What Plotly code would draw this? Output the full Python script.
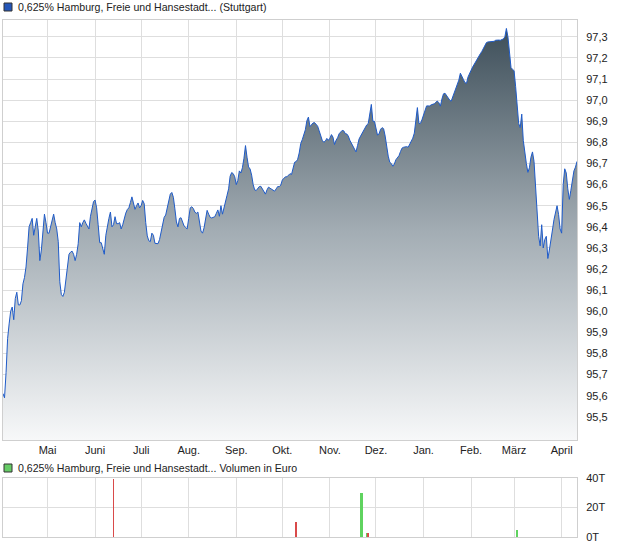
import plotly.graph_objects as go
import pandas as pd

# ---- data ----
start_date = "2024-04-02"
price = [
    95.61, 95.59, 95.71, 95.87, 95.94, 96.00, 96.02, 95.96, 96.06, 96.09,
    96.03, 96.03, 96.05, 96.13, 96.16, 96.21, 96.30, 96.40, 96.42, 96.44,
    96.36, 96.41, 96.44, 96.38, 96.24, 96.29, 96.39, 96.46, 96.42, 96.37,
    96.37, 96.40, 96.44, 96.46, 96.42, 96.39, 96.33, 96.14, 96.08, 96.07,
    96.09, 96.15, 96.21, 96.27, 96.28, 96.285, 96.27, 96.24, 96.27, 96.32,
    96.42, 96.40, 96.42, 96.433, 96.417, 96.40, 96.39, 96.45, 96.48, 96.52,
    96.527, 96.49, 96.41, 96.325, 96.325, 96.30, 96.27, 96.36, 96.41, 96.44,
    96.47, 96.40, 96.41, 96.448, 96.415, 96.415, 96.42, 96.39, 96.41, 96.44,
    96.465, 96.482, 96.49, 96.515, 96.542, 96.513, 96.483, 96.50, 96.513, 96.49,
    96.50, 96.525, 96.51, 96.42, 96.357, 96.334, 96.33, 96.37, 96.36, 96.322,
    96.322, 96.32, 96.34, 96.38, 96.413, 96.445, 96.456, 96.49, 96.53, 96.555,
    96.563, 96.54, 96.485, 96.423, 96.40, 96.44, 96.443, 96.42, 96.404, 96.397,
    96.39, 96.44, 96.49, 96.495, 96.487, 96.47, 96.464, 96.47, 96.42, 96.38,
    96.37, 96.395, 96.437, 96.478, 96.46, 96.445, 96.442, 96.445, 96.448, 96.464,
    96.48, 96.45, 96.50, 96.46, 96.495, 96.52, 96.55, 96.58, 96.64, 96.657,
    96.652, 96.637, 96.60, 96.62, 96.665, 96.655, 96.68, 96.725, 96.785, 96.73,
    96.684, 96.674, 96.645, 96.60, 96.575, 96.572, 96.583, 96.591, 96.592, 96.58,
    96.573, 96.555, 96.575, 96.588, 96.583, 96.578, 96.575, 96.569, 96.58, 96.591,
    96.59, 96.598, 96.622, 96.631, 96.637, 96.637, 96.647, 96.652, 96.648, 96.68,
    96.706, 96.709, 96.72, 96.75, 96.795, 96.813, 96.834, 96.86, 96.903, 96.92,
    96.875, 96.884, 96.892, 96.894, 96.887, 96.877, 96.855, 96.826, 96.81, 96.801,
    96.806, 96.819, 96.81, 96.82, 96.837, 96.825, 96.79, 96.81, 96.822, 96.841,
    96.851, 96.857, 96.855, 96.842, 96.84, 96.83, 96.81, 96.795, 96.781, 96.768,
    96.755, 96.785, 96.816, 96.83, 96.845, 96.86, 96.874, 96.883, 96.89, 96.945,
    96.98, 96.90, 96.90, 96.868, 96.835, 96.84, 96.862, 96.87, 96.865, 96.83,
    96.775, 96.735, 96.706, 96.70, 96.687, 96.698, 96.718, 96.728, 96.737, 96.757,
    96.773, 96.777, 96.78, 96.78, 96.777, 96.79, 96.806, 96.82, 96.844, 96.90,
    96.965, 96.89, 96.89, 96.908, 96.933, 96.96, 96.973, 96.973, 96.973, 96.978,
    96.981, 96.983, 96.99, 96.996, 96.988, 96.972, 97.006, 97.03, 97.033, 97.02,
    97.007, 97.001, 96.995, 97.016, 97.04, 97.06, 97.075, 97.095, 97.128, 97.116,
    97.098, 97.083, 97.08, 97.11, 97.13, 97.142, 97.157, 97.171, 97.184, 97.196,
    97.207, 97.22, 97.231, 97.246, 97.26, 97.273, 97.276, 97.276, 97.276, 97.276,
    97.279, 97.284, 97.286, 97.285, 97.284, 97.287, 97.29, 97.30, 97.34, 97.30,
    97.23, 97.155, 97.146, 97.14, 97.065, 96.99, 96.89, 96.87, 96.934, 96.81,
    96.737, 96.70, 96.658, 96.68, 96.73, 96.755, 96.71, 96.595, 96.44, 96.355,
    96.31, 96.41, 96.30, 96.34, 96.355, 96.25, 96.29, 96.33, 96.385, 96.434,
    96.467, 96.50, 96.458, 96.39, 96.37, 96.60, 96.675, 96.655, 96.58, 96.53,
    96.573, 96.625, 96.665, 96.683, 96.71,
]

vol_dates = ["2024-06-13", "2024-10-10", "2024-11-21", "2024-11-22",
             "2024-11-25", "2024-11-26", "2025-03-03"]
vol_values = [39500, 10500, 29500, 29500, 2800, 2800, 4600]
vol_direction = ["down", "down", "up", "up", "up", "down", "up"]

month_ticks = ["2024-05-01", "2024-06-01", "2024-07-01", "2024-08-01",
               "2024-09-01", "2024-10-01", "2024-11-01", "2024-12-01",
               "2025-01-01", "2025-02-01", "2025-03-01", "2025-04-01"]
month_labels = ["Mai", "Juni", "Juli", "Aug.", "Sep.", "Okt.", "Nov.",
                "Dez.", "Jan.", "Feb.", "März", "April"]
price_ticks = [95.5, 95.6, 95.7, 95.8, 95.9, 96.0, 96.1, 96.2, 96.3, 96.4,
               96.5, 96.6, 96.7, 96.8, 96.9, 97.0, 97.1, 97.2, 97.3]
vol_ticks = [0, 20000, 40000]
vol_tick_labels = ["0T", "20T", "40T"]

title_price = "0,625% Hamburg, Freie und Hansestadt... (Stuttgart)"
title_volume = "0,625% Hamburg, Freie und Hansestadt... Volumen in Euro"

# ---- figure ----
W, H = 620, 546
ML, MR, MT, MB = 3, 43, 20, 9
plot_w = W - ML - MR
plot_h = H - MT - MB


def px(xp):
    return (xp - ML) / plot_w


def py(yp):
    return (H - MB - yp) / plot_h


dates = pd.date_range(start_date, periods=len(price), freq="D")
up_col, down_col = "#5fd35f", "#d94a4a"
vol_colors = [up_col if d == "up" else down_col for d in vol_direction]

grid = "#dedede"
frame = "#cfcfcf"

fig = go.Figure()
fig.add_trace(go.Scatter(
    x=dates, y=price, mode="lines",
    line=dict(color="#1f5bc8", width=1),
    fill="tozeroy",
    fillgradient=dict(type="vertical",
                      colorscale=[[0, "#f7f8f9"], [0.5, "#a3adb4"], [1, "#3c4d58"]],
                      start=95.39, stop=97.36),
    xaxis="x", yaxis="y", hoverinfo="skip",
))
fig.add_trace(go.Bar(
    x=pd.to_datetime(vol_dates), y=vol_values, marker_color=vol_colors,
    marker_line_width=0, width=0.6 * 86400000,
    xaxis="x2", yaxis="y2", hoverinfo="skip",
))

main_bottom = py(440)
vol_top = py(478)

fig.update_layout(
    width=W, height=H,
    margin=dict(l=ML, r=MR, t=MT, b=MB),
    paper_bgcolor="white", plot_bgcolor="white",
    showlegend=False, separators=",.",
    font=dict(family="Liberation Sans, Arial, sans-serif", size=11, color="#222222"),
    bargap=0,
    xaxis=dict(domain=[0, 1], anchor="y", range=[dates[0], dates[-1]],
               tickvals=month_ticks, ticktext=month_labels,
               showgrid=True, gridcolor=grid, gridwidth=1,
               showline=True, linecolor=frame, mirror=True,
               ticks="", zeroline=False),
    yaxis=dict(domain=[main_bottom, 1], anchor="x", side="right",
               range=[95.39, 97.38], tickvals=price_ticks, tickformat=".1f",
               showgrid=True, gridcolor=grid, gridwidth=1,
               showline=True, linecolor=frame, mirror=True,
               ticks="", zeroline=False, ticklabelstandoff=6),
    xaxis2=dict(domain=[0, 1], anchor="y2", matches="x",
                tickvals=month_ticks, showticklabels=False,
                showgrid=True, gridcolor=grid, gridwidth=1,
                showline=True, linecolor=frame, mirror=True,
                ticks="", zeroline=False),
    yaxis2=dict(domain=[0, vol_top], anchor="x2", side="right",
                range=[0, 40000], tickvals=vol_ticks, ticktext=vol_tick_labels,
                showgrid=True, gridcolor=grid, gridwidth=1,
                showline=True, linecolor=frame, mirror=True,
                ticks="", zeroline=False, ticklabelstandoff=6),
)

# legend-like headers
fig.add_shape(type="rect", xref="paper", yref="paper",
              x0=px(4), x1=px(12), y0=py(11), y1=py(3),
              fillcolor="#2456b8", line=dict(color="#333333", width=1))
fig.add_annotation(xref="paper", yref="paper", x=px(15.5), y=py(7),
                   text=title_price, showarrow=False,
                   xanchor="left", yanchor="middle",
                   font=dict(size=10.6, color="#222222"))
fig.add_shape(type="rect", xref="paper", yref="paper",
              x0=px(4), x1=px(12), y0=py(472), y1=py(464),
              fillcolor="#66cc66", line=dict(color="#333333", width=1))
fig.add_annotation(xref="paper", yref="paper", x=px(15.5), y=py(468),
                   text=title_volume, showarrow=False,
                   xanchor="left", yanchor="middle",
                   font=dict(size=10.6, color="#222222"))

fig.write_html(
    "out.html",
    config={"displayModeBar": False},
    post_script="document.body.style.margin='0';document.body.style.padding='0';",
)
